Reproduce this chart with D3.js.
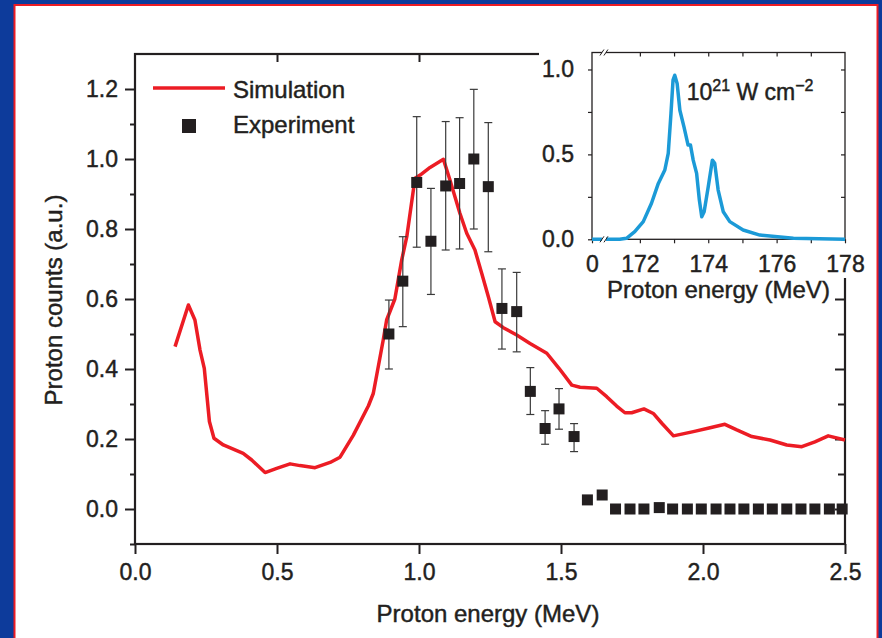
<!DOCTYPE html>
<html>
<head>
<meta charset="utf-8">
<script src="https://cdnjs.cloudflare.com/ajax/libs/d3/7.8.5/d3.min.js"></script>
<style>
  body { margin: 0; background: #ffffff; }
  text { font-family: "Liberation Sans", Arial, Helvetica, sans-serif; fill: #231f20; stroke: #231f20; stroke-width: 0.45px; }
</style>
</head>
<body>
<div id="chart"></div>
<script>
// main panel: simulated spectrum (red line)
let simEnergy = [0.141, 0.188, 0.211, 0.229, 0.244, 0.262, 0.278, 0.311, 0.381, 0.411,
    0.458, 0.499, 0.546, 0.581, 0.634, 0.687, 0.722, 0.769, 0.822, 0.839,
    0.874, 0.886, 0.915, 0.939, 0.957, 0.986, 1.004, 1.039, 1.086, 1.109,
    1.144, 1.168, 1.197, 1.221, 1.244, 1.268, 1.297, 1.344, 1.391, 1.45,
    1.493, 1.538, 1.567, 1.626, 1.661, 1.696, 1.725, 1.749, 1.792, 1.825,
    1.855, 1.896, 1.966, 2.025, 2.077, 2.119, 2.172, 2.236, 2.295, 2.348,
    2.394, 2.441, 2.5];
let simCounts = [0.464, 0.583, 0.54, 0.454, 0.402, 0.25, 0.202, 0.183, 0.159, 0.14,
    0.104, 0.116, 0.129, 0.124, 0.118, 0.133, 0.148, 0.211, 0.295, 0.33,
    0.483, 0.54, 0.60, 0.711, 0.778, 0.945, 0.954, 0.976, 0.999, 0.94,
    0.845, 0.788, 0.74, 0.673, 0.607, 0.535, 0.518, 0.497, 0.473, 0.445,
    0.402, 0.354, 0.348, 0.345, 0.321, 0.294, 0.275, 0.275, 0.286, 0.273,
    0.245, 0.209, 0.221, 0.232, 0.242, 0.226, 0.207, 0.197, 0.183, 0.178,
    0.192, 0.209, 0.197];

// main panel: measured points (squares), error bars where shown
let expEnergy = [0.894, 0.943, 0.992, 1.042, 1.094, 1.143, 1.193, 1.244, 1.292, 1.344,
    1.392, 1.444, 1.493, 1.546, 1.593, 1.645, 1.692, 1.743, 1.792, 1.846,
    1.893, 1.945, 1.994, 2.046, 2.095, 2.144, 2.195, 2.244, 2.295, 2.345,
    2.394, 2.445, 2.49];
let expCounts = [0.50, 0.651, 0.933, 0.765, 0.923, 0.93, 1.0, 0.921, 0.573, 0.564,
    0.336, 0.23, 0.286, 0.207, 0.026, 0.04, 0, 0, 0, 0.004,
    0, 0, 0, 0, 0, 0, 0, 0, 0, 0,
    0, 0, 0];
let expErrHigh = [0.597, 0.778, 1.121, 0.916, 1.107, 1.118, 1.199, 1.104, 0.686, 0.676,
    0.404, 0.281, 0.344, 0.244];
let expErrLow = [0.40, 0.521, 0.748, 0.613, 0.74, 0.743, 0.80, 0.735, 0.457, 0.449,
    0.27, 0.185, 0.228, 0.164];

// inset: 10^21 W cm^-2 spectrum
let insetEnergy = [170.6, 171.41, 171.61, 171.85, 172.1, 172.34, 172.54, 172.73, 172.83, 172.91,
    172.97, 173.02, 173.09, 173.17, 173.29, 173.41, 173.48, 173.56, 173.66, 173.74,
    173.81, 173.88, 174.0, 174.12, 174.19, 174.29, 174.44, 174.63, 175.02, 175.51,
    176.49, 178];
let insetSignal = [0, 0, 0.006, 0.045, 0.104, 0.212, 0.329, 0.408, 0.506, 0.741,
    0.937, 0.966, 0.918, 0.76, 0.662, 0.555, 0.555, 0.466, 0.388, 0.231,
    0.133, 0.162, 0.309, 0.466, 0.447, 0.29, 0.162, 0.104, 0.055, 0.025,
    0.006, 0];

// tick values
let mainXTicks = [0, 0.5, 1.0, 1.5, 2.0, 2.5];
let mainYTicks = [0, 0.2, 0.4, 0.6, 0.8, 1.0, 1.2];
let mainYMinor = [-0.1, 0.1, 0.3, 0.5, 0.7, 0.9, 1.1];
let insetXTicks = [170.6, 172, 173, 174, 175, 176, 177, 178];
let insetYTicks = [0, 0.5, 1.0];
let insetYMinor = [0.25, 0.75];

let svgWidth = 882;
let svgHeight = 638;
let ink = "#231f20";

let svg = d3.select("#chart")
    .append("svg")
    .attr("width", svgWidth)
    .attr("height", svgHeight);

// blue frame with the thin red rule
svg.append("rect")
    .attr("width", svgWidth)
    .attr("height", svgHeight)
    .attr("fill", "#0d3b9b");
svg.append("rect")
    .attr("x", 14.5)
    .attr("y", 5)
    .attr("width", 863)
    .attr("height", svgHeight + 10)
    .attr("fill", "#ffffff")
    .attr("stroke", "#ec1c24")
    .attr("stroke-width", 2);

// main scales
let x = d3.scaleLinear().domain([0, 2.5]).range([135, 845]);
let y = d3.scaleLinear().domain([-0.1, 1.3]).range([544, 54]);

let main = svg.append("g");

function styleAxis(g, w) {
    g.select(".domain").remove();
    g.selectAll("line").attr("stroke", ink).attr("stroke-width", w);
    g.selectAll("text").attr("font-size", "23px").attr("fill", ink);
}

// left axis
main.append("g")
    .attr("transform", "translate(135,0)")
    .call(d3.axisLeft(y).tickValues(mainYTicks).tickSize(10).tickPadding(7).tickFormat(d3.format(".1f")))
    .call(g => styleAxis(g, 2));
main.append("g")
    .attr("transform", "translate(135,0)")
    .call(d3.axisLeft(y).tickValues(mainYMinor).tickSize(5).tickFormat(""))
    .call(g => styleAxis(g, 2));

// right axis, ticks inward
main.append("g")
    .attr("transform", "translate(845,0)")
    .call(d3.axisLeft(y).tickValues(mainYTicks).tickSize(10).tickFormat(""))
    .call(g => styleAxis(g, 2));
main.append("g")
    .attr("transform", "translate(845,0)")
    .call(d3.axisLeft(y).tickValues(mainYMinor.slice(1)).tickSize(7).tickFormat(""))
    .call(g => styleAxis(g, 2));

// bottom axis
main.append("g")
    .attr("transform", "translate(0,544)")
    .call(d3.axisBottom(x).tickValues(mainXTicks).tickSize(10).tickPadding(10).tickFormat(d3.format(".1f")))
    .call(g => styleAxis(g, 2));

// top axis, ticks inward
main.append("g")
    .attr("transform", "translate(0,54)")
    .call(d3.axisBottom(x).tickValues(mainXTicks.slice(1, 5)).tickSize(8).tickFormat(""))
    .call(g => styleAxis(g, 2));

// frame lines
main.append("rect")
    .attr("x", 135)
    .attr("y", 54)
    .attr("width", 710)
    .attr("height", 490)
    .attr("fill", "none")
    .attr("stroke", ink)
    .attr("stroke-width", 2.2);

// simulation line
let simLine = d3.line()
    .x((d, i) => x(simEnergy[i]))
    .y(d => y(d));

main.append("path")
    .datum(simCounts)
    .attr("d", simLine)
    .attr("fill", "none")
    .attr("stroke", "#ec1c24")
    .attr("stroke-width", 3.5)
    .attr("stroke-linejoin", "round");

// error bars
let bars = main.selectAll(".err")
    .data(expErrHigh)
    .enter()
    .append("g")
    .attr("class", "err")
    .attr("stroke", "#3a3a3a")
    .attr("stroke-width", 1.2);

bars.append("line")
    .attr("x1", (d, i) => x(expEnergy[i]))
    .attr("x2", (d, i) => x(expEnergy[i]))
    .attr("y1", d => y(d))
    .attr("y2", (d, i) => y(expErrLow[i]));
bars.append("line")
    .attr("x1", (d, i) => x(expEnergy[i]) - 4)
    .attr("x2", (d, i) => x(expEnergy[i]) + 4)
    .attr("y1", d => y(d))
    .attr("y2", d => y(d));
bars.append("line")
    .attr("x1", (d, i) => x(expEnergy[i]) - 4)
    .attr("x2", (d, i) => x(expEnergy[i]) + 4)
    .attr("y1", (d, i) => y(expErrLow[i]))
    .attr("y2", (d, i) => y(expErrLow[i]));

// experiment squares
main.selectAll(".pt")
    .data(expCounts)
    .enter()
    .append("rect")
    .attr("class", "pt")
    .attr("x", (d, i) => x(expEnergy[i]) - 5.5)
    .attr("y", d => y(d) - 5.5)
    .attr("width", 11)
    .attr("height", 11)
    .attr("fill", ink);

// legend
main.append("line")
    .attr("x1", 153).attr("x2", 225)
    .attr("y1", 88).attr("y2", 88)
    .attr("stroke", "#ec1c24")
    .attr("stroke-width", 3.5);
main.append("text")
    .attr("x", 233).attr("y", 98)
    .attr("font-size", "24px")
    .text("Simulation");
main.append("rect")
    .attr("x", 182).attr("y", 119)
    .attr("width", 14).attr("height", 14)
    .attr("fill", ink);
main.append("text")
    .attr("x", 233).attr("y", 133)
    .attr("font-size", "24px")
    .text("Experiment");

// axis titles
main.append("text")
    .attr("transform", "rotate(-90)")
    .attr("x", -300)
    .attr("y", 62)
    .attr("text-anchor", "middle")
    .attr("font-size", "24px")
    .text("Proton counts (a.u.)");
main.append("text")
    .attr("x", 488)
    .attr("y", 622)
    .attr("text-anchor", "middle")
    .attr("font-size", "24px")
    .text("Proton energy (MeV)");

// ---------------- inset ----------------
let inset = svg.append("g");

inset.append("rect")
    .attr("x", 539)
    .attr("y", 40)
    .attr("width", 309)
    .attr("height", 238)
    .attr("fill", "#ffffff");

let ix = d3.scaleLinear().domain([170.6, 178]).range([592, 845]);
let iy = d3.scaleLinear().domain([0, 1.1]).range([239.3, 52.5]);

function styleInset(g) {
    g.select(".domain").remove();
    g.selectAll("line").attr("stroke", ink).attr("stroke-width", 1.2);
    g.selectAll("text").attr("font-size", "23px").attr("fill", ink);
}

inset.append("g")
    .attr("transform", "translate(592,0)")
    .call(d3.axisLeft(iy).tickValues(insetYTicks).tickSize(4).tickPadding(14).tickFormat(d3.format(".1f")))
    .call(styleInset);
inset.append("g")
    .attr("transform", "translate(592,0)")
    .call(d3.axisLeft(iy).tickValues(insetYMinor).tickSize(4).tickFormat(""))
    .call(styleInset);
inset.append("g")
    .attr("transform", "translate(845,0)")
    .call(d3.axisLeft(iy).tickValues(insetYMinor.concat(insetYTicks)).tickSize(4).tickFormat(""))
    .call(styleInset);
inset.append("g")
    .attr("transform", "translate(0,239.3)")
    .call(d3.axisBottom(ix).tickValues(insetXTicks).tickSize(4).tickPadding(12)
        .tickFormat(d => d < 171 ? "0" : (d % 2 === 0 ? d : "")))
    .call(styleInset);
inset.append("g")
    .attr("transform", "translate(0,52.5)")
    .call(d3.axisBottom(ix).tickValues(insetXTicks.slice(1, 7)).tickSize(4).tickFormat(""))
    .call(styleInset);

inset.append("rect")
    .attr("x", ix(170.6))
    .attr("y", iy(1.1))
    .attr("width", ix(178) - ix(170.6))
    .attr("height", iy(0) - iy(1.1))
    .attr("fill", "none")
    .attr("stroke", ink)
    .attr("stroke-width", 1.3);

let insetLine = d3.line()
    .x((d, i) => ix(insetEnergy[i]))
    .y(d => iy(d));

inset.append("path")
    .datum(insetSignal)
    .attr("d", insetLine)
    .attr("fill", "none")
    .attr("stroke", "#1b9ad7")
    .attr("stroke-width", 3.5)
    .attr("stroke-linejoin", "round");

// axis break marks
let breakAt = ix(170.95);
[iy(0), iy(1.1)].forEach(function(by) {
    inset.append("rect")
        .attr("x", breakAt - 2)
        .attr("y", by - 3)
        .attr("width", 4)
        .attr("height", 6)
        .attr("fill", "#ffffff");
    [-2.5, 1.5].forEach(function(dx) {
        inset.append("line")
            .attr("x1", breakAt + dx - 1.5).attr("y1", by + 3)
            .attr("x2", breakAt + dx + 2.5).attr("y2", by - 3)
            .attr("stroke", ink)
            .attr("stroke-width", 1);
    });
});

// intensity label
let lbl = inset.append("text")
    .attr("x", ix(173.37))
    .attr("y", iy(0.822))
    .attr("font-size", "23px");
lbl.append("tspan").text("10");
lbl.append("tspan").attr("font-size", "16px").attr("dy", -9).text("21");
lbl.append("tspan").attr("dy", 9).text(" W cm");
lbl.append("tspan").attr("font-size", "16px").attr("dy", -9).text("\u22122");

inset.append("text")
    .attr("x", (ix(170.6) + ix(178)) / 2)
    .attr("y", 298)
    .attr("text-anchor", "middle")
    .attr("font-size", "24px")
    .text("Proton energy (MeV)");
</script>
</body>
</html>
